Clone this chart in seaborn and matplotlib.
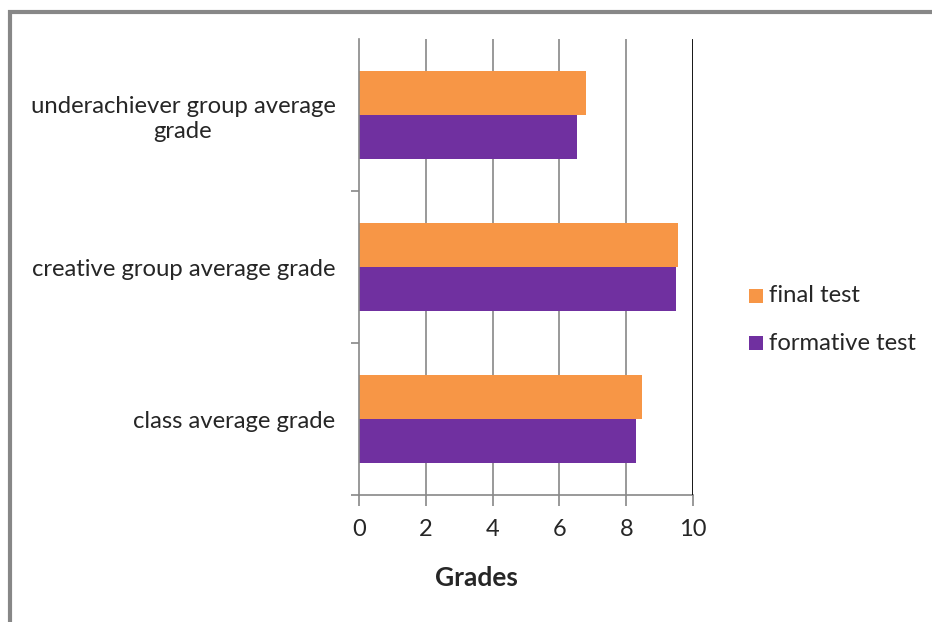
import pandas as pd
import seaborn as sns
import matplotlib.pyplot as plt
from matplotlib.patches import Rectangle
from matplotlib.ticker import FixedLocator

groups = ["underachiever group average\ngrade", "creative group average grade", "class average grade"]
final_test = [6.8, 9.56, 8.48]
formative_test = [6.53, 9.5, 8.3]
tests = ["final test", "formative test"]
colors = ["#F79646", "#7030A0"]

df = pd.DataFrame({
    "group": groups * 2,
    "grade": final_test + formative_test,
    "test": [tests[0]] * 3 + [tests[1]] * 3,
})

sns.set_style("white")
plt.rcParams["font.family"] = ["Lato", "DejaVu Sans"]

fig = plt.figure(figsize=(9.32, 6.22), dpi=100)
ax = fig.add_axes([359 / 932, 127 / 622, 334 / 932, 456 / 622])

sns.barplot(data=df, y="group", x="grade", hue="test", hue_order=tests,
            order=groups, palette=colors, orient="h", width=0.575,
            saturation=1, linewidth=0, ax=ax, legend=False)

ax.set_xlim(0, 10)
ax.set_ylim(2.5, -0.5)
ax.set_xticks([0, 2, 4, 6, 8, 10])
ax.set_xticklabels(["0", "2", "4", "6", "8", "10"], fontsize=17)
for x in [2, 4, 6, 8]:
    ax.axvline(x, color="#888888", lw=1.2, zorder=0)
ax.axvline(10, color="black", lw=2, zorder=3)

for s in ["top", "right"]:
    ax.spines[s].set_visible(False)
ax.spines["left"].set_color("#888888")
ax.spines["bottom"].set_color("#888888")
ax.spines["left"].set_linewidth(1.2)
ax.spines["bottom"].set_linewidth(1.2)

ax.yaxis.set_minor_locator(FixedLocator([0.5, 1.5, 2.5]))
ax.tick_params(axis="y", which="major", length=0, pad=17, labelsize=17.2)
ax.tick_params(axis="y", which="minor", length=6, color="#888888", width=1.2, left=True)
ax.tick_params(axis="x", length=8, color="#888888", width=1.2, pad=9, bottom=True)
for lab in ax.get_yticklabels():
    lab.set_multialignment("center")
    lab.set_linespacing(1.25)

ax.set_ylabel("")
ax.set_xlabel("Grades", fontsize=19, fontweight="bold")
ax.xaxis.set_label_coords(0.353, -0.155)

# legend
for i, (t, c) in enumerate(zip(tests, colors)):
    yy = 1 - (296 + 47 * i) / 622
    fig.patches.append(Rectangle((749 / 932, yy - 7 / 622), 14 / 932, 14 / 622,
                                 transform=fig.transFigure, color=c, lw=0, figure=fig))
    fig.text(769 / 932, yy, t, fontsize=17.2, va="center", ha="left")

# outer border
fig.patches.append(Rectangle((9.5 / 932, -0.1), 1.2, 1.1 - 11.5 / 622, transform=fig.transFigure,
                             fill=False, edgecolor="#878787", lw=3, figure=fig))

fig.savefig("out.png", dpi=100)
